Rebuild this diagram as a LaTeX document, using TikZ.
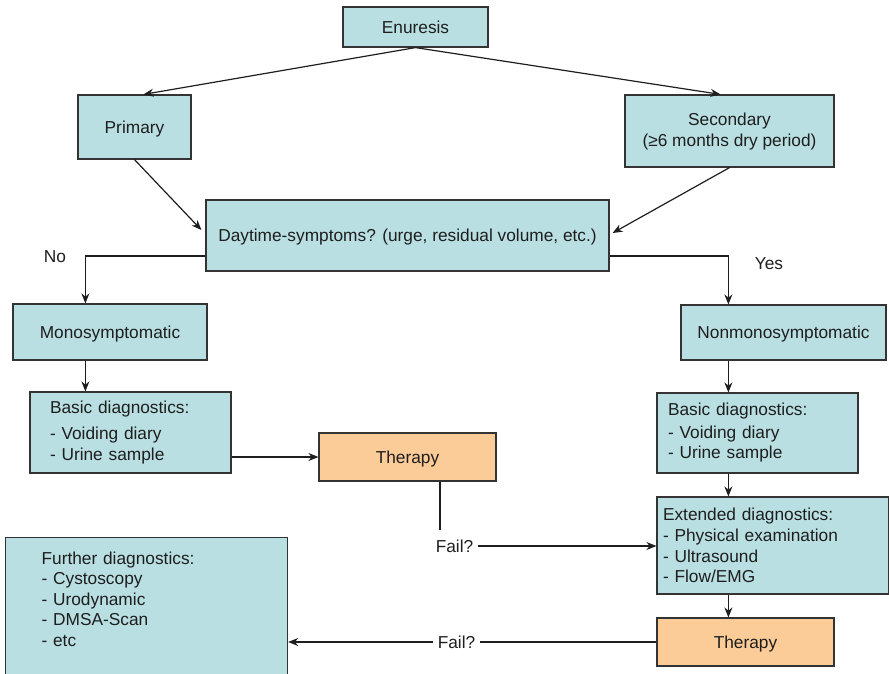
\documentclass[tikz,border=0pt]{standalone}
\usepackage{fontspec}
\setmainfont{Liberation Sans}
\usetikzlibrary{arrows.meta,calc}
\definecolor{boxteal}{HTML}{B9DFE2}
\definecolor{boxorange}{HTML}{FBCB98}
\definecolor{edgegray}{HTML}{333333}
\definecolor{inkgray}{HTML}{1E1E1E}
\begin{document}
\begin{tikzpicture}[x=1pt,y=-1pt,
  box/.style={draw=edgegray, line width=1.2pt, fill=boxteal, inner sep=0pt,
    font=\fontsize{17.3}{20.5}\selectfont, text=inkgray},
  oneline/.style={text height=12.4pt, text depth=0pt},
  ther/.style={box, oneline, fill=boxorange},
  conn/.style={draw=inkgray, line width=1.2pt},
  arr/.style={conn, -{Stealth[length=10pt,width=8pt]}},
  lbl/.style={font=\fontsize{17.3}{20.5}\selectfont, text=inkgray, inner xsep=5pt, inner ysep=3pt}]
\useasboundingbox (0,0) rectangle (889,673);
\clip (0,0) rectangle (889,673);

% boxes
\node[box, oneline, minimum width=145pt, minimum height=40pt] (enu) at (415.5,27) {Enuresis};
\node[box, oneline, minimum width=113pt, minimum height=64pt] (prim) at (134.5,127) {Primary};
\node[box, minimum width=209pt, minimum height=72pt, align=center] (sec) at (729.5,131) {\rule{0pt}{14pt}Secondary\\(≥6 months dry period)};
\node[box, oneline, minimum width=403pt, minimum height=71pt] (day) at (407.5,235.5) {Daytime-symptoms? (urge, residual volume, etc.)};
\node[box, oneline, minimum width=194pt, minimum height=56pt] (mono) at (110,332) {Monosymptomatic};
\node[box, oneline, minimum width=205pt, minimum height=55pt] (nonmono) at (783.5,332.5) {Nonmonosymptomatic};
\node[box, text width=161pt, inner xsep=20pt, minimum height=81pt, align=left] (basicL) at (130.5,432.5)
  {Basic diagnostics:\\[6pt]- Voiding diary\\- Urine sample};
\node[ther, minimum width=177pt, minimum height=48pt] (therL) at (407.5,457) {Therapy};
\node[box, text width=179pt, inner xsep=11pt, minimum height=80pt, align=left] (basicR) at (757.5,433)
  {Basic diagnostics:\\[2pt]- Voiding diary\\- Urine sample};
\node[box, text width=219.5pt, inner xsep=6pt, minimum height=97pt, align=left] (ext) at (772.75,545.5)
  {Extended diagnostics:\\[1pt]- Physical examination\\- Ultrasound\\- Flow/EMG};
\node[ther, minimum width=177pt, minimum height=48pt] (therR) at (745.5,642) {Therapy};
\node[box, anchor=north west, text width=210pt, inner xsep=36pt, inner ysep=14pt, align=left] (further) at (5,537)
  {Further diagnostics:\\- Cystoscopy\\- Urodynamic\\- DMSA-Scan\\- etc\rule[-60pt]{0pt}{60pt}};

% labels
\node[lbl] (no) at (55,256.5) {No};
\node[lbl] (yes) at (769,264) {Yes};
\node[lbl] (fail1) at (454.5,546) {Fail?};
\node[lbl] (fail2) at (456.5,642) {Fail?};
\coordinate (f1top) at (440,530);

% connectors
\draw[arr] (enu.south) -- ($(prim.north)+(9,0)$);
\draw[arr] (enu.south) -- ($(sec.north)+(-9,0)$);
\draw[arr] (prim.south) -- ($(day.west)+(-4,-5.5)$);
\draw[arr] (sec.south) -- ($(day.east)+(3,-2.5)$);
\draw[arr] ($(day.west)+(0,20.5)$) -| ($(mono.north west)+(73,0)$);
\draw[arr] ($(day.east)+(0,20.5)$) -| ($(nonmono.north west)+(48,0)$);
\draw[arr] ($(mono.south west)+(73,0)$) -- ($(basicL.north west)+(56,0)$);
\draw[arr] (basicL.east |- therL.west) -- (therL.west);
\draw[arr] ($(nonmono.south west)+(48,0)$) -- ($(basicR.north west)+(72,0)$);
\draw[arr] ($(basicR.south west)+(72,0)$) -- ($(ext.north west)+(72,0)$);
\draw[arr] ($(ext.south west)+(72,0)$) -- ($(therR.north west)+(72,0)$);
\draw[conn] (therL.south west -| f1top) -- (f1top);
\draw[arr] (fail1.east) -- (fail1 -| ext.west);
\draw[conn] (therR.west) -- (fail2.east);
\draw[arr] (fail2.west) -- (fail2 -| further.east);
\end{tikzpicture}
\end{document}
